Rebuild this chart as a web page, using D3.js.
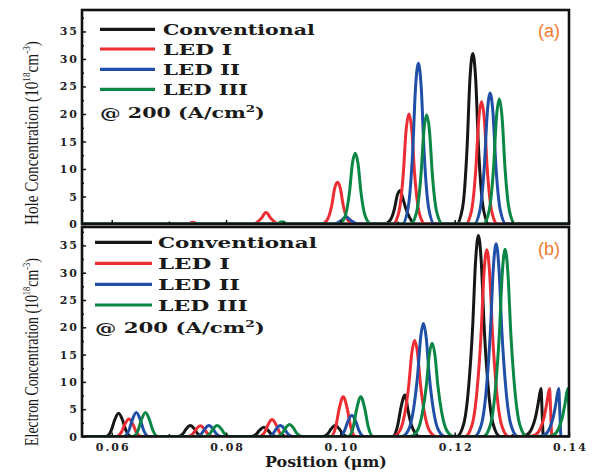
<!DOCTYPE html>
<html>
<head>
<meta charset="utf-8">
<script src="https://cdn.jsdelivr.net/npm/d3@7"></script>
<style>
  html, body { margin: 0; padding: 0; background: #fff; }
  svg { display: block; }
</style>
</head>
<body>
<svg id="chart" width="592" height="472"></svg>
<script>
// ---- series and ticks ----
const seriesNames = ["Conventional", "LED I", "LED II", "LED III"];
const seriesColors = ["#161616", "#ec2d33", "#1f4fa6", "#0a8744"];
const xTicks = [0.06, 0.08, 0.10, 0.12, 0.14];
const xMinorTicks = [0.07, 0.09, 0.11, 0.13];
const yTicks = [0, 5, 10, 15, 20, 25, 30, 35];
const yMinorTicks = [2.5, 7.5, 12.5, 17.5, 22.5, 27.5, 32.5, 37.5];

// Hole concentration (1e18 cm^-3) vs position (um)
const holeConventional = [
  [0.054, 0],
  [0.10765, 0], [0.10865, 0.6], [0.10945, 2.7], [0.10995, 5.2], [0.11045, 6.1], [0.11095, 4.6], [0.1114, 3.0], [0.1121, 1.2], [0.1131, 0],
  [0.12037, 0], [0.12107, 1.5], [0.12157, 4.4], [0.12217, 13.9], [0.12267, 26.4], [0.12317, 31.0], [0.12367, 26.4], [0.12417, 13.9], [0.12497, 3.1], [0.12597, 0],
  [0.141, 0]
];
const holeLED1 = [
  [0.054, 0],
  [0.0732, 0], [0.0742, 0.3], [0.0752, 0],
  [0.0848, 0], [0.0861, 0.95], [0.0870, 2.1], [0.0879, 0.95], [0.0892, 0],
  [0.0967, 0], [0.0977, 0.76], [0.0985, 3.42], [0.0990, 6.46], [0.0995, 7.6], [0.1000, 6.46], [0.1005, 3.42], [0.1013, 0.76], [0.1023, 0],
  [0.1092, 0], [0.1102, 2.0], [0.1110, 9.0], [0.1115, 17.0], [0.1120, 20.0], [0.1125, 17.0], [0.1130, 9.0], [0.1138, 2.0], [0.1148, 0],
  [0.1219, 0], [0.1229, 2.22], [0.1237, 10.0], [0.1242, 18.9], [0.1247, 22.2], [0.1252, 18.9], [0.1257, 10.0], [0.1265, 2.22], [0.1275, 0],
  [0.141, 0]
];
const holeLED2 = [
  [0.054, 0],
  [0.0988, 0], [0.1001, 0.6], [0.1010, 1.3], [0.1019, 0.6], [0.1032, 0],
  [0.11085, 0], [0.11185, 2.9], [0.11265, 13.1], [0.11315, 24.8], [0.11365, 29.2], [0.11415, 24.8], [0.11465, 13.1], [0.11545, 2.9], [0.11645, 0],
  [0.1234, 0], [0.1244, 2.4], [0.1252, 10.7], [0.1257, 20.2], [0.1262, 23.8], [0.1267, 20.2], [0.1272, 10.7], [0.1280, 2.4], [0.1290, 0],
  [0.141, 0]
];
const holeLED3 = [
  [0.054, 0],
  [0.0888, 0], [0.0898, 0.4], [0.0908, 0],
  [0.0998, 0], [0.1008, 1.3], [0.1016, 5.8], [0.1021, 10.9], [0.1026, 12.85], [0.1031, 10.9], [0.1036, 5.8], [0.1044, 1.3], [0.1054, 0],
  [0.1123, 0], [0.1133, 2.0], [0.1141, 8.9], [0.1146, 16.8], [0.1151, 19.8], [0.1156, 16.8], [0.1161, 8.9], [0.1169, 2.0], [0.1179, 0],
  [0.1250, 0], [0.1260, 2.3], [0.1268, 10.2], [0.1273, 19.3], [0.1278, 22.7], [0.1283, 19.3], [0.1288, 10.2], [0.1296, 2.3], [0.1306, 0],
  [0.141, 0]
];

// Electron concentration (1e18 cm^-3) vs position (um)
const elecConventional = [
  [0.054, 0],
  [0.0590, 0], [0.0599, 1.06], [0.0605, 2.98], [0.0612, 4.25], [0.0619, 2.98], [0.0625, 1.06], [0.0634, 0],
  [0.07155, 0], [0.07245, 0.5], [0.07305, 1.4], [0.07375, 2.0], [0.07445, 1.4], [0.07505, 0.5], [0.07595, 0],
  [0.0844, 0], [0.0853, 0.43], [0.0859, 1.19], [0.0866, 1.7], [0.0873, 1.19], [0.0879, 0.43], [0.0888, 0],
  [0.0969, 0], [0.0978, 0.5], [0.0984, 1.4], [0.0991, 2.0], [0.0998, 1.4], [0.1004, 0.5], [0.1013, 0],
  [0.1091, 0], [0.1100, 1.9], [0.1106, 5.3], [0.1113, 7.6], [0.1119, 4.4], [0.1124, 2.2], [0.1130, 0.8], [0.1138, 0],
  [0.12035, 0], [0.12155, 2.2], [0.12245, 9.2], [0.12315, 20.2], [0.12365, 32.0], [0.12415, 36.8], [0.12465, 32.0], [0.12515, 20.2], [0.12585, 9.2], [0.12675, 2.2], [0.12795, 0],
  [0.1315, 0], [0.1327, 0.35], [0.1335, 1.5], [0.1341, 3.35], [0.1346, 6.0], [0.1351, 8.8], [0.1353, 4.4], [0.1355, 0],
  [0.141, 0]
];
const elecLED1 = [
  [0.054, 0],
  [0.0608, 0], [0.0617, 0.8], [0.0623, 2.24], [0.0630, 3.2], [0.0637, 2.24], [0.0643, 0.8], [0.0652, 0],
  [0.0733, 0], [0.0742, 0.49], [0.0748, 1.37], [0.0755, 1.95], [0.0762, 1.37], [0.0768, 0.49], [0.0777, 0],
  [0.08585, 0], [0.08675, 0.78], [0.08735, 2.17], [0.08805, 3.1], [0.08875, 2.17], [0.08935, 0.78], [0.09025, 0],
  [0.0983, 0], [0.0992, 1.83], [0.0998, 5.1], [0.1005, 7.3], [0.1012, 5.1], [0.1018, 1.83], [0.1027, 0],
  [0.1092, 0], [0.1104, 1.06], [0.1113, 4.4], [0.1120, 9.7], [0.1125, 15.3], [0.1130, 17.6], [0.1135, 15.3], [0.1140, 9.7], [0.1147, 4.4], [0.1156, 1.06], [0.1168, 0],
  [0.12182, 0], [0.12302, 2.05], [0.12392, 8.55], [0.12462, 18.8], [0.12512, 29.8], [0.12562, 34.2], [0.12612, 29.8], [0.12662, 18.8], [0.12732, 8.55], [0.12822, 2.05], [0.12942, 0],
  [0.1330, 0], [0.1342, 0.35], [0.1350, 1.5], [0.1356, 3.35], [0.1361, 6.0], [0.1366, 8.8], [0.1368, 4.4], [0.1370, 0],
  [0.141, 0]
];
const elecLED2 = [
  [0.054, 0],
  [0.0621, 0], [0.0630, 1.1], [0.0636, 3.08], [0.0643, 4.4], [0.0650, 3.08], [0.0656, 1.1], [0.0665, 0],
  [0.0748, 0], [0.0757, 0.5], [0.0763, 1.4], [0.0770, 2.0], [0.0777, 1.4], [0.0783, 0.5], [0.0792, 0],
  [0.0873, 0], [0.0882, 0.5], [0.0888, 1.4], [0.0895, 2.0], [0.0902, 1.4], [0.0908, 0.5], [0.0917, 0],
  [0.0998, 0], [0.1007, 0.98], [0.1013, 2.73], [0.1020, 3.9], [0.1027, 2.73], [0.1033, 0.98], [0.1042, 0],
  [0.11073, 0], [0.11193, 1.24], [0.11283, 5.2], [0.11353, 11.4], [0.11403, 18.0], [0.11453, 20.7], [0.11503, 18.0], [0.11553, 11.4], [0.11623, 5.2], [0.11713, 1.24], [0.11833, 0],
  [0.12345, 0], [0.12465, 2.1], [0.12555, 8.8], [0.12625, 19.4], [0.12675, 30.7], [0.12725, 35.3], [0.12775, 30.7], [0.12825, 19.4], [0.12895, 8.8], [0.12985, 2.1], [0.13105, 0],
  [0.1346, 0], [0.1358, 0.35], [0.1366, 1.5], [0.1372, 3.35], [0.1377, 6.0], [0.1382, 8.8], [0.1384, 4.4], [0.1386, 0],
  [0.141, 0]
];
const elecLED3 = [
  [0.054, 0],
  [0.0637, 0], [0.0646, 1.1], [0.0652, 3.08], [0.0659, 4.4], [0.0666, 3.08], [0.0672, 1.1], [0.0681, 0],
  [0.07625, 0], [0.07715, 0.5], [0.07775, 1.4], [0.07845, 2.0], [0.07915, 1.4], [0.07975, 0.5], [0.08065, 0],
  [0.0889, 0], [0.0898, 0.55], [0.0904, 1.54], [0.0911, 2.2], [0.0918, 1.54], [0.0924, 0.55], [0.0933, 0],
  [0.10137, 0], [0.10227, 1.83], [0.10287, 5.1], [0.10357, 7.3], [0.10427, 5.1], [0.10487, 1.83], [0.10577, 0],
  [0.11225, 0], [0.11345, 1.03], [0.11435, 4.3], [0.11505, 9.4], [0.11555, 14.9], [0.11605, 17.1], [0.11655, 14.9], [0.11705, 9.4], [0.11775, 4.3], [0.11865, 1.03], [0.11985, 0],
  [0.12502, 0], [0.12622, 2.06], [0.12712, 8.6], [0.12782, 18.9], [0.12832, 29.8], [0.12882, 34.3], [0.12932, 29.8], [0.12982, 18.9], [0.13052, 8.6], [0.13142, 2.06], [0.13262, 0],
  [0.1362, 0], [0.1374, 0.35], [0.1382, 1.5], [0.1388, 3.35], [0.1393, 6.0], [0.1398, 8.8], [0.1400, 4.4], [0.1402, 0],
  [0.141, 0]
];

// ---- layout ----
const svg = d3.select("#chart");
const left = 82, right = 569;
const x = d3.scaleLinear().domain([0.0548, 0.14]).range([left, right]);

const tickFont = "'DejaVu Serif', serif";
const titleFont = "'Liberation Serif', 'Times New Roman', serif";

const panels = [
  {
    id: "hole", top: 10, bottom: 224, yMax: 38.9,
    series: [holeConventional, holeLED1, holeLED2, holeLED3],
    tag: "(a)", tagY: 36.5, xLabels: false,
    titleMain: "Hole Concentration (10", titleCY: 133, titleLen: 184,
    legend: { x1: 100, x2: 155, tx: 163, ys: [29.3, 49, 69.3, 89.3], widths: [152, 69, 77, 85], noteY: 118.3, noteX: 100, noteW: 165 }
  },
  {
    id: "elec", top: 227, bottom: 436.5, yMax: 38.37,
    series: [elecConventional, elecLED1, elecLED2, elecLED3],
    tag: "(b)", tagY: 255, xLabels: true,
    titleMain: "Electron Concentration (10", titleCY: 352, titleLen: 188,
    legend: { x1: 95, x2: 152, tx: 158, ys: [242.3, 263.3, 284.3, 305], widths: [159, 72, 82, 90], noteY: 333.3, noteX: 95, noteW: 170 }
  }
];

// stretch a text group horizontally to the given width
function fitWidth(g, textSel, width, tx) {
  const bb = textSel.node().getBBox();
  const s = width / bb.width;
  g.attr("transform", tx + ` scale(${s},1)`);
}

panels.forEach(p => {
  const y = d3.scaleLinear().domain([0, p.yMax]).range([p.bottom, p.top]);
  const g = svg.append("g").attr("class", "panel-" + p.id);

  g.append("clipPath").attr("id", "clip-" + p.id)
    .append("rect").attr("x", left).attr("y", p.top)
    .attr("width", right - left).attr("height", p.bottom - p.top);

  // curves
  const lineGen = d3.line().x(d => x(d[0])).y(d => y(d[1])).curve(d3.curveMonotoneX);
  const plot = g.append("g").attr("clip-path", `url(#clip-${p.id})`);
  p.series.forEach((s, i) => {
    plot.append("path").datum(s)
      .attr("d", lineGen)
      .attr("fill", "none")
      .attr("stroke", seriesColors[i])
      .attr("stroke-width", 3)
      .attr("stroke-linejoin", "round");
  });

  // y axis, ticks pointing inward
  g.append("g").attr("transform", `translate(${left},0)`)
    .call(d3.axisLeft(y).tickValues(yTicks).tickSize(-4).tickPadding(3).tickFormat(d3.format("d")));
  g.append("g").attr("transform", `translate(${left},0)`)
    .call(d3.axisLeft(y).tickValues(yMinorTicks).tickSize(-2).tickFormat(""));

  // x axis, ticks pointing inward
  const xAxisG = g.append("g").attr("transform", `translate(0,${p.bottom})`)
    .call(d3.axisBottom(x).tickValues(xTicks).tickSize(-4).tickPadding(7)
      .tickFormat(p.xLabels ? d3.format(".2f") : ""));
  g.append("g").attr("transform", `translate(0,${p.bottom})`)
    .call(d3.axisBottom(x).tickValues(xMinorTicks).tickSize(-2.5).tickFormat(""));

  g.selectAll(".domain").remove();
  g.selectAll(".tick line").attr("stroke", "#111").attr("stroke-width", 1.5);
  g.selectAll(".tick text")
    .attr("font-family", tickFont).attr("font-weight", "bold")
    .attr("font-size", 11).attr("fill", "#222")
    .style("letter-spacing", "2px");
  xAxisG.selectAll(".tick text").attr("dx", "1px");

  // frame
  g.append("rect").attr("x", left).attr("y", p.top)
    .attr("width", right - left).attr("height", p.bottom - p.top)
    .attr("fill", "none").attr("stroke", "#111").attr("stroke-width", 2.6);

  // panel tag
  g.append("text").attr("x", 538).attr("y", p.tagY)
    .attr("font-family", "'Liberation Sans', Arial, sans-serif")
    .attr("font-size", 18).attr("fill", "#f27a2c")
    .text(p.tag);

  // legend
  const L = p.legend;
  seriesNames.forEach((name, i) => {
    g.append("line").attr("x1", L.x1).attr("x2", L.x2)
      .attr("y1", L.ys[i]).attr("y2", L.ys[i])
      .attr("stroke", seriesColors[i]).attr("stroke-width", 3.2);
    const lg = g.append("g");
    const t = lg.append("text").attr("x", 0).attr("y", 0)
      .attr("font-family", tickFont).attr("font-weight", "bold")
      .attr("font-size", 15.5).attr("fill", "#1a1a1a")
      .text(name);
    fitWidth(lg, t, L.widths[i], `translate(${L.tx},${L.ys[i] + 5.6})`);
  });
  const ng = g.append("g");
  const nt = ng.append("text").attr("x", 0).attr("y", 0)
    .attr("font-family", tickFont).attr("font-weight", "bold")
    .attr("font-size", 15.5).attr("fill", "#1a1a1a");
  nt.append("tspan").text("@ 200 (A/cm");
  nt.append("tspan").attr("dy", -6).attr("font-size", 10).text("2");
  nt.append("tspan").attr("dy", 6).text(")");
  fitWidth(ng, nt, L.noteW, `translate(${L.noteX},${L.noteY})`);

  // y title
  const tg = svg.append("g");
  const tt = tg.append("text").attr("x", 0).attr("y", 0)
    .attr("text-anchor", "middle")
    .attr("font-family", titleFont).attr("font-size", 18).attr("fill", "#1a1a1a");
  tt.append("tspan").text(p.titleMain);
  tt.append("tspan").attr("dy", -8).attr("font-size", 11).text("18");
  tt.append("tspan").attr("dy", 8).text("cm");
  tt.append("tspan").attr("dy", -8).attr("font-size", 11).text("-3");
  tt.append("tspan").attr("dy", 8).text(")");
  fitWidth(tg, tt, p.titleLen, `translate(38,${p.titleCY}) rotate(-90)`);
});

// x title
const xg = svg.append("g");
const xt = xg.append("text").attr("x", 0).attr("y", 0)
  .attr("font-family", tickFont).attr("font-weight", "bold")
  .attr("font-size", 14).attr("fill", "#1a1a1a")
  .text("Position (\u03bcm)");
fitWidth(xg, xt, 122, "translate(265,467)");
</script>
</body>
</html>
